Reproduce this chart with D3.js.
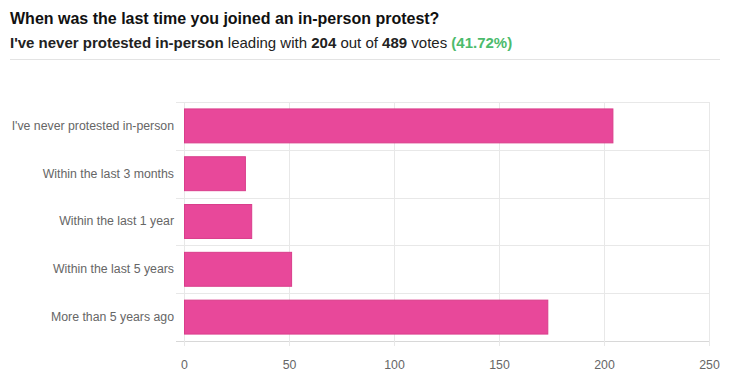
<!DOCTYPE html>
<html><head><meta charset="utf-8">
<script src="https://cdn.jsdelivr.net/npm/d3@7"></script>
<style>body{margin:0;background:#fff;font-family:"Liberation Sans",Arial,sans-serif;}</style>
</head><body>
<svg id="c" width="730" height="379"></svg>
<script>
const categories = ["I've never protested in-person","Within the last 3 months","Within the last 1 year","Within the last 5 years","More than 5 years ago"];
const votes = [204, 29, 32, 51, 173];
const xTicks = [0, 50, 100, 150, 200, 250];
const total = 489;

const svg = d3.select("#c");
const m = {left:184, right:21, top:102, bottom:38};
const W = 730, H = 379;
const x = d3.scaleLinear().domain([0,250]).range([m.left, W-m.right]);
const y = d3.scaleBand().domain(categories).range([m.top, H-m.bottom]).paddingInner(0.29).paddingOuter(0.145);

// title
svg.append("text").attr("x",10).attr("y",24).attr("font-size",16).attr("font-weight",700).attr("fill","#111")
  .text("When was the last time you joined an in-person protest?");
const sub = svg.append("text").attr("x",10).attr("y",48).attr("font-size",15).attr("fill","#222");
sub.append("tspan").attr("font-weight",700).text(categories[0]);
sub.append("tspan").text(" leading with ");
sub.append("tspan").attr("font-weight",700).text(votes[0]);
sub.append("tspan").text(" out of ");
sub.append("tspan").attr("font-weight",700).text(total);
sub.append("tspan").text(" votes ");
sub.append("tspan").attr("font-weight",700).attr("fill","#4cbb6c").text("(" + (votes[0]/total*100).toFixed(2) + "%)");
svg.append("line").attr("x1",10).attr("x2",720).attr("y1",59.5).attr("y2",59.5).attr("stroke","#e3e3e3");

// grid
const [y0, y1] = y.range();
const bandEdges = categories.map(c => y(c) - y.step()*y.paddingInner()/2).concat([y1]);
bandEdges[0] = y0;
svg.append("g").selectAll("line").data(bandEdges).join("line")
  .attr("x1", m.left-8).attr("x2", x(250)).attr("y1", d=>Math.round(d)+0.5).attr("y2", d=>Math.round(d)+0.5)
  .attr("stroke", (d,i)=> i===bandEdges.length-1 ? "#d8d8d8" : "#e8e8e8");
svg.append("g").selectAll("line").data(xTicks).join("line")
  .attr("x1", d=>Math.round(x(d))+0.5).attr("x2", d=>Math.round(x(d))+0.5)
  .attr("y1", y0).attr("y2", y1+5).attr("stroke","#e8e8e8");

// bars
svg.append("g").selectAll("rect").data(categories).join("rect")
  .attr("x", x(0)+0.5).attr("y", d=>y(d))
  .attr("width", (d,i)=> x(votes[i]) - x(0)).attr("height", y.bandwidth())
  .attr("fill","#e8489a").attr("stroke","#d93d8b").attr("stroke-width",1);

// y labels
const yAxis = d3.axisLeft(y).tickSize(0).tickPadding(10);
const gy = svg.append("g").attr("transform",`translate(${m.left},0)`).call(yAxis);
gy.select(".domain").remove();
gy.selectAll("text").attr("font-size",12.3).attr("fill","#666").attr("font-family","'Liberation Sans',Arial,sans-serif");

// x labels
const xAxis = d3.axisBottom(x).tickValues(xTicks).tickSize(0).tickPadding(19);
const gx = svg.append("g").attr("transform",`translate(0,${y1})`).call(xAxis);
gx.select(".domain").remove();
gx.selectAll("text").attr("font-size",12.3).attr("fill","#666").attr("font-family","'Liberation Sans',Arial,sans-serif");
</script>
</body></html>
